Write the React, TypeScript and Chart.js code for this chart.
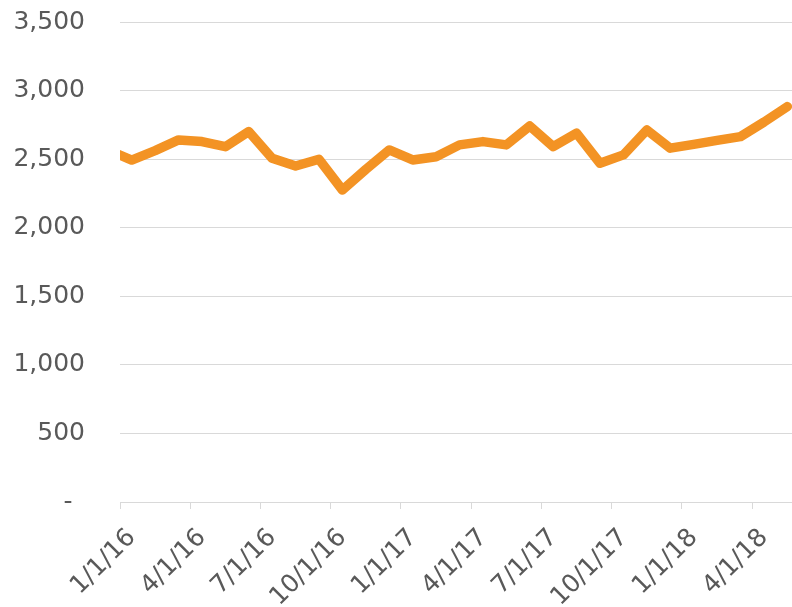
import { useEffect, useRef } from 'react';
import { Chart, registerables } from 'chart.js';

Chart.register(...registerables);

// Monthly values (Dec 2015 .. May 2018); points sit mid-month on a date axis
const months = [
  '2015-12',
  '2016-01', '2016-02', '2016-03', '2016-04', '2016-05', '2016-06',
  '2016-07', '2016-08', '2016-09', '2016-10', '2016-11', '2016-12',
  '2017-01', '2017-02', '2017-03', '2017-04', '2017-05', '2017-06',
  '2017-07', '2017-08', '2017-09', '2017-10', '2017-11', '2017-12',
  '2018-01', '2018-02', '2018-03', '2018-04', '2018-05',
];
const values = [
  2565,
  2493, 2562, 2640, 2628, 2591, 2701,
  2506, 2450, 2499, 2275, 2425, 2567,
  2494, 2518, 2604, 2628, 2604, 2742,
  2591, 2689, 2470, 2531, 2713, 2580,
  2608, 2637, 2664, 2770, 2883,
];
const xTickLabels = [
  '1/1/16', '4/1/16', '7/1/16', '10/1/16',
  '1/1/17', '4/1/17', '7/1/17', '10/1/17',
  '1/1/18', '4/1/18',
];
const yTicks = [0, 500, 1000, 1500, 2000, 2500, 3000, 3500];
const yTickLabels = ['-\u2002', '500', '1,000', '1,500', '2,000', '2,500', '3,000', '3,500'];

const FONT = 'DejaVu Sans';
const TEXT = '#595959';
const GRID = '#d9d9d9';

function monthOffset(m: string): number {
  const [y, mo] = m.split('-').map(Number);
  return (y - 2016) * 12 + (mo - 1);
}

export default function App() {
  const ref = useRef<HTMLCanvasElement>(null);
  useEffect(() => {
    if (!ref.current) return;
    const data = months.map((m, i) => ({ x: monthOffset(m) + 0.5, y: values[i] }));
    const chart = new Chart(ref.current, {
      type: 'line',
      data: {
        datasets: [
          {
            data,
            borderColor: '#f39324',
            borderWidth: 9.5,
            borderCapStyle: 'round',
            borderJoinStyle: 'round',
            pointRadius: 0,
            fill: false,
            tension: 0,
            clip: 0,
          } as any,
        ],
      },
      options: {
        animation: false,
        responsive: true,
        maintainAspectRatio: false,
        layout: { padding: { top: 22, right: 0, left: 0, bottom: 0 } },
        plugins: { legend: { display: false }, tooltip: { enabled: false } },
        scales: {
          x: {
            type: 'linear',
            min: 0,
            max: 28.7,
            afterBuildTicks: (s: any) => {
              s.ticks = xTickLabels.map((_, i) => ({ value: i * 3 }));
            },
            afterFit: (s: any) => {
              s.height = 105;
            },
            grid: {
              display: true,
              drawOnChartArea: false,
              drawTicks: true,
              tickLength: 7,
              color: GRID,
              lineWidth: 1,
            },
            border: { display: true, color: GRID, width: 1 },
            ticks: {
              autoSkip: false,
              maxRotation: 45,
              minRotation: 45,
              labelOffset: 12,
              padding: 14,
              color: TEXT,
              font: { family: FONT, size: 25 },
              callback: (_v: any, i: number) => xTickLabels[i] ?? '',
            },
          },
          y: {
            min: 0,
            max: 3500,
            afterBuildTicks: (s: any) => {
              s.ticks = yTicks.map((v) => ({ value: v }));
            },
            afterFit: (s: any) => {
              s.width = 120;
            },
            grid: {
              color: GRID,
              drawTicks: true,
              tickLength: 35,
              tickColor: 'rgba(0,0,0,0)',
              lineWidth: 1,
            },
            border: { display: false },
            ticks: {
              padding: 0,
              color: TEXT,
              font: { family: FONT, size: 25 },
              callback: (_v: any, i: number) => yTickLabels[i] ?? '',
            },
          },
        },
      },
    });
    return () => chart.destroy();
  }, []);
  return (
    <div style={{ position: 'absolute', left: 0, top: 0, width: 792, height: 607 }}>
      <canvas ref={ref} />
    </div>
  );
}
